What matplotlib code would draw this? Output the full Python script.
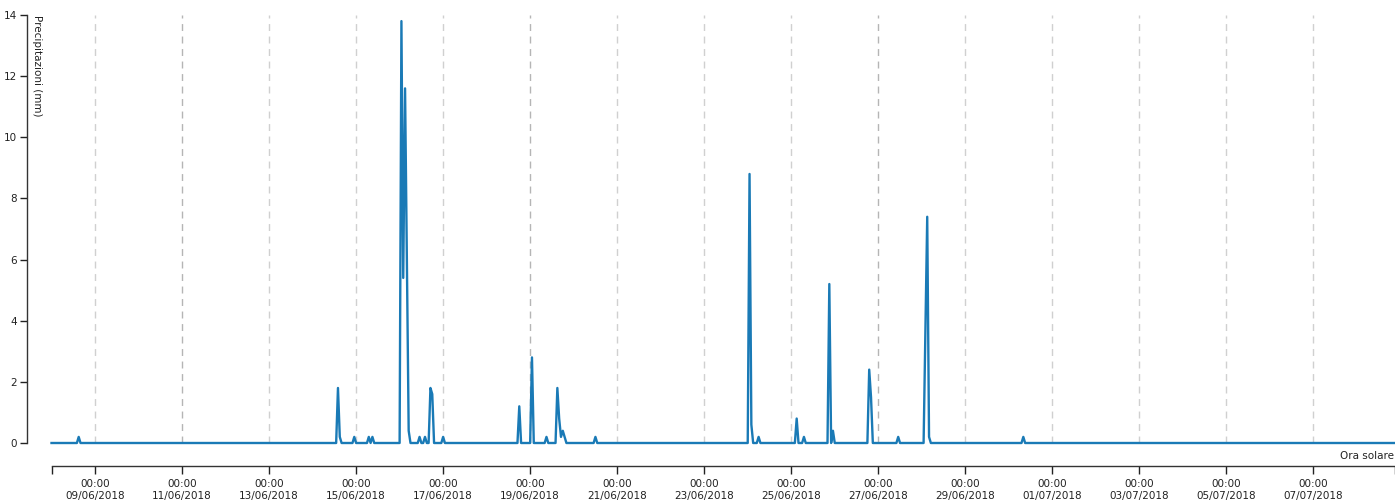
import matplotlib
matplotlib.use("Agg")
import matplotlib.pyplot as plt
import matplotlib.dates as mdates
from matplotlib.ticker import FixedLocator
import pandas as pd

# hourly rainfall, only the hours with rain are listed (everything else is 0 mm)
start = "2018-06-08 00:00"
end = "2018-07-08 21:00"
rain_times = [
    "2018-06-08 15:00",
    "2018-06-14 14:00", "2018-06-14 15:00", "2018-06-14 23:00",
    "2018-06-15 07:00", "2018-06-15 09:00",
    "2018-06-16 01:00", "2018-06-16 02:00", "2018-06-16 03:00", "2018-06-16 04:00",
    "2018-06-16 05:00", "2018-06-16 11:00", "2018-06-16 14:00", "2018-06-16 17:00",
    "2018-06-16 18:00", "2018-06-17 00:00",
    "2018-06-18 18:00", "2018-06-19 01:00", "2018-06-19 09:00", "2018-06-19 15:00",
    "2018-06-19 16:00", "2018-06-19 17:00", "2018-06-19 18:00", "2018-06-19 19:00",
    "2018-06-20 12:00",
    "2018-06-24 01:00", "2018-06-24 02:00", "2018-06-24 06:00",
    "2018-06-25 03:00", "2018-06-25 07:00", "2018-06-25 21:00", "2018-06-25 23:00",
    "2018-06-26 19:00", "2018-06-26 20:00", "2018-06-27 11:00",
    "2018-06-28 02:00", "2018-06-28 03:00", "2018-06-28 04:00",
    "2018-06-30 08:00",
]
rain_mm = [
    0.2,
    1.8, 0.2, 0.2,
    0.2, 0.2,
    13.8, 5.4, 11.6, 6.0,
    0.4, 0.2, 0.2, 1.8,
    1.6, 0.2,
    1.2, 2.8, 0.2, 1.8,
    0.8, 0.2, 0.4, 0.2,
    0.2,
    8.8, 0.6, 0.2,
    0.8, 0.2, 5.2, 0.4,
    2.4, 1.5, 0.2,
    3.7, 7.4, 0.2,
    0.2,
]
y_ticks = [0, 2, 4, 6, 8, 10, 12, 14]

hours = pd.date_range(start, end, freq="h")
rain = pd.Series(0.0, index=hours)
rain[pd.to_datetime(rain_times)] = rain_mm

W, H = 1395, 500
fig = plt.figure(figsize=(W / 100, H / 100), dpi=100)
ax = fig.add_axes([51.5 / W, 1 - 443 / H, 1 - 51.5 / W, (443 - 15) / H])

txt = "#222222"
fs = 7.5

# dashed day markers every two days
tick_days = pd.date_range("2018-06-09", "2018-07-07", freq="2D")
dark_days = pd.to_datetime(["2018-06-11", "2018-06-19", "2018-06-27"])
for d in tick_days:
    c = "#b5b5b5" if d in dark_days else "#d0d0d0"
    ax.axvline(d, color=c, lw=1.0, ls=(0, (5, 4)), zorder=1)

ax.plot(rain.index, rain.values, color="#1a7ab6", lw=1.7, clip_on=False, zorder=3)

ax.set_xlim(pd.Timestamp(start), pd.Timestamp(end))
ax.set_ylim(0, 14)

for s in ["top", "right"]:
    ax.spines[s].set_visible(False)
ax.spines["left"].set_position(("outward", 17.6))
ax.spines["bottom"].set_position(("outward", 16.6))
for s in ["left", "bottom"]:
    ax.spines[s].set_color("#333333")
    ax.spines[s].set_linewidth(1.0)

ax.set_yticks(y_ticks)
ax.tick_params(axis="y", length=5, width=1, color="#222222", labelsize=fs,
               labelcolor=txt, pad=2)

ax.xaxis.set_major_locator(FixedLocator(mdates.date2num(tick_days)))
ax.xaxis.set_major_formatter(mdates.DateFormatter("%H:%M\n%d/%m/%Y"))
# end ticks at both ends of the time axis
ax.xaxis.set_minor_locator(FixedLocator(
    mdates.date2num([pd.Timestamp(start), pd.Timestamp(end)])))
ax.tick_params(axis="x", which="both", length=6, width=1, color="#222222",
               labelsize=fs, labelcolor=txt, pad=3)
for lab in ax.get_xticklabels():
    lab.set_linespacing(1.25)

fig.text(37 / W, 1 - 15 / H, "Precipitazioni (mm)", rotation=-90, ha="center",
         va="top", fontsize=fs, color=txt)
fig.text(1394 / W, 1 - 456 / H, "Ora solare", ha="right", va="center",
         fontsize=fs, color=txt)

fig.savefig("out.png", dpi=100)
